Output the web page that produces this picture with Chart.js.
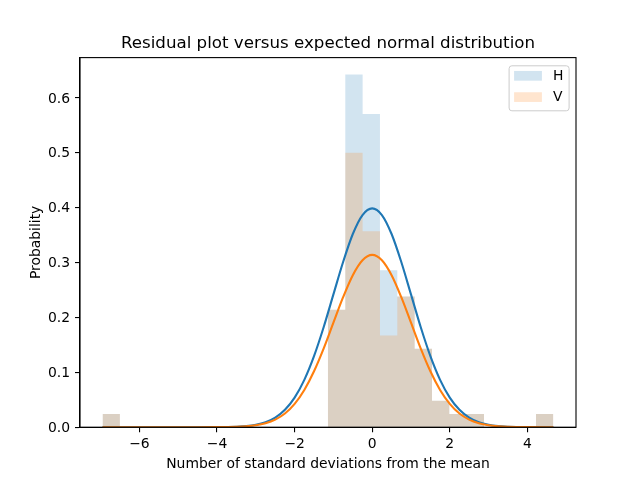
<!DOCTYPE html>
<html>
<head>
<meta charset="utf-8">
<script src="https://cdn.jsdelivr.net/npm/chart.js@4/dist/chart.umd.min.js"></script>
<style>
html,body{margin:0;padding:0;background:#fff;}
#wrap{width:640px;height:480px;}
</style>
</head>
<body>
<div id="wrap"><canvas id="c" width="640" height="480"></canvas></div>
<script>
// ---- data ----
const binEdges = [-6.952, -6.505, -6.058, -5.611, -5.164, -4.717, -4.270, -3.823, -3.376, -2.929,
  -2.482, -2.035, -1.588, -1.141, -0.694, -0.247, 0.200, 0.647, 1.094, 1.541,
  1.988, 2.435, 2.882, 3.329, 3.776, 4.223, 4.670];
const histH = [0.024, 0, 0, 0, 0, 0, 0, 0, 0, 0, 0, 0, 0,
  0.214, 0.643, 0.571, 0.286, 0.238, 0.143, 0.048, 0.024, 0.024, 0, 0, 0, 0.024];
const histV = [0.024, 0, 0, 0, 0, 0, 0, 0, 0, 0, 0, 0, 0,
  0.214, 0.500, 0.357, 0.167, 0.238, 0.143, 0.048, 0.024, 0.024, 0, 0, 0, 0.024];
const curveX = [-6.952, -5.5, -4.5, -4.0, -3.75, -3.5, -3.25, -3.0, -2.75, -2.5, -2.25, -2.0, -1.75, -1.5, -1.25, -1.0, -0.75, -0.5, -0.25,
  0, 0.25, 0.5, 0.75, 1.0, 1.25, 1.5, 1.75, 2.0, 2.25, 2.5, 2.75, 3.0, 3.25, 3.5, 3.75, 4.0, 4.670];
const curveH = [0, 0, 0, 0.0001, 0.0004, 0.0009, 0.0020, 0.0044, 0.0091, 0.0175, 0.0317, 0.0540, 0.0863, 0.1295, 0.1826, 0.2420, 0.3011, 0.3521, 0.3867,
  0.3989, 0.3867, 0.3521, 0.3011, 0.2420, 0.1826, 0.1295, 0.0863, 0.0540, 0.0317, 0.0175, 0.0091, 0.0044, 0.0020, 0.0009, 0.0004, 0.0001, 0];
const curveV = [0, 0, 0, 0.0001, 0.0003, 0.0007, 0.0016, 0.0035, 0.0072, 0.0138, 0.0249, 0.0425, 0.0679, 0.1019, 0.1437, 0.1905, 0.2370, 0.2771, 0.3043,
  0.3140, 0.3043, 0.2771, 0.2370, 0.1905, 0.1437, 0.1019, 0.0679, 0.0425, 0.0249, 0.0138, 0.0072, 0.0035, 0.0016, 0.0007, 0.0003, 0.0001, 0];
const xTicks = [-6, -4, -2, 0, 2, 4];
const yTicks = [0.0, 0.1, 0.2, 0.3, 0.4, 0.5, 0.6];
const seriesNames = ['H', 'V'];
const titleText = 'Residual plot versus expected normal distribution';
const xLabel = 'Number of standard deviations from the mean';
const yLabel = 'Probability';
const xRange = [-7.533, 5.254];
const yRange = [0, 0.6736];

// ---- build datasets ----
function histPoints(h) {
  const pts = h.map((v, i) => ({x: binEdges[i], y: v}));
  pts.push({x: binEdges[binEdges.length - 1], y: 0});
  return pts;
}
function curvePoints(ys) { return curveX.map((x, i) => ({x: x, y: ys[i]})); }

const FONT = 'DejaVu Sans';
const tickFont = {family: FONT, size: 13.9};

const legendPlugin = {
  id: 'mplLegend',
  afterDraw(chart) {
    const ctx = chart.ctx, a = chart.chartArea;
    ctx.save();
    ctx.strokeStyle = '#000';
    ctx.lineWidth = 1.1;
    ctx.strokeRect(a.left, a.top, a.right - a.left, a.bottom - a.top);
    const bw = 60, bh = 45;
    const bx = a.right - 6.9 - bw, by = a.top + 8.2;
    const r = 2.8;
    ctx.beginPath();
    ctx.moveTo(bx + r, by);
    ctx.lineTo(bx + bw - r, by); ctx.arcTo(bx + bw, by, bx + bw, by + r, r);
    ctx.lineTo(bx + bw, by + bh - r); ctx.arcTo(bx + bw, by + bh, bx + bw - r, by + bh, r);
    ctx.lineTo(bx + r, by + bh); ctx.arcTo(bx, by + bh, bx, by + bh - r, r);
    ctx.lineTo(bx, by + r); ctx.arcTo(bx, by, bx + r, by, r);
    ctx.closePath();
    ctx.fillStyle = 'rgba(255,255,255,0.8)';
    ctx.fill();
    ctx.strokeStyle = '#cccccc';
    ctx.lineWidth = 1;
    ctx.stroke();
    const ds = chart.data.datasets;
    ctx.font = '13.9px "' + FONT + '"';
    ctx.textBaseline = 'middle';
    ctx.textAlign = 'left';
    seriesNames.forEach((name, i) => {
      const d = ds.find(s => s.label === name);
      const cy = by + 10 + i * 21.3;
      ctx.fillStyle = d.backgroundColor;
      ctx.fillRect(bx + 5, cy - 4.85, 27.8, 9.7);
      ctx.fillStyle = '#000';
      ctx.fillText(name, bx + 44, cy + 0.5);
    });
    ctx.restore();
  }
};

new Chart(document.getElementById('c'), {
  type: 'line',
  data: {
    datasets: [
      {label: 'H', data: histPoints(histH), stepped: true, fill: 'origin',
        backgroundColor: 'rgba(31,119,180,0.2)', borderColor: 'transparent', borderWidth: 0,
        pointRadius: 0, order: 3},
      {label: 'V', data: histPoints(histV), stepped: true, fill: 'origin',
        backgroundColor: 'rgba(255,127,14,0.2)', borderColor: 'transparent', borderWidth: 0,
        pointRadius: 0, order: 2},
      {label: 'H curve', data: curvePoints(curveH), borderColor: '#1f77b4', borderWidth: 2.1,
        pointRadius: 0, fill: false, cubicInterpolationMode: 'monotone', order: 1},
      {label: 'V curve', data: curvePoints(curveV), borderColor: '#ff7f0e', borderWidth: 2.1,
        pointRadius: 0, fill: false, cubicInterpolationMode: 'monotone', order: 0}
    ]
  },
  options: {
    responsive: false,
    animation: false,
    devicePixelRatio: 1,
    layout: {padding: {left: 0, right: 64, top: 0, bottom: 0}},
    plugins: {
      legend: {display: false},
      tooltip: {enabled: false},
      title: {display: true, text: titleText, fullSize: false, color: '#000',
        font: {family: FONT, size: 16.67, weight: 'normal', lineHeight: 1.2},
        padding: {top: 34, bottom: 3.6}}
    },
    scales: {
      x: {
        type: 'linear', min: xRange[0], max: xRange[1],
        afterBuildTicks: s => { s.ticks = xTicks.map(v => ({value: v})); },
        afterFit: s => { s.height = 52.8; },
        ticks: {color: '#000', font: tickFont, padding: 4, maxRotation: 0,
          callback: v => (v < 0 ? '\u2212' + Math.abs(v) : String(v))},
        grid: {drawOnChartArea: false, drawTicks: true, tickLength: 5, color: '#000', lineWidth: 1.1},
        border: {display: true, color: '#000', width: 1.1},
        title: {display: true, text: xLabel, color: '#000', font: {family: FONT, size: 13.9, lineHeight: 1.2},
          padding: {top: 0, bottom: 7}}
      },
      y: {
        type: 'linear', min: yRange[0], max: yRange[1],
        afterBuildTicks: s => { s.ticks = yTicks.map(v => ({value: v})); },
        afterFit: s => { s.width = 80; },
        ticks: {color: '#000', font: tickFont, padding: 5, labelOffset: 1, callback: v => v.toFixed(1)},
        grid: {drawOnChartArea: false, drawTicks: true, tickLength: 5, color: '#000', lineWidth: 1.1},
        border: {display: true, color: '#000', width: 1.1},
        title: {display: true, text: yLabel, color: '#000', font: {family: FONT, size: 13.9, lineHeight: 1.2},
          padding: {top: 28, bottom: 0}}
      }
    }
  },
  plugins: [legendPlugin]
});
</script>
</body>
</html>
